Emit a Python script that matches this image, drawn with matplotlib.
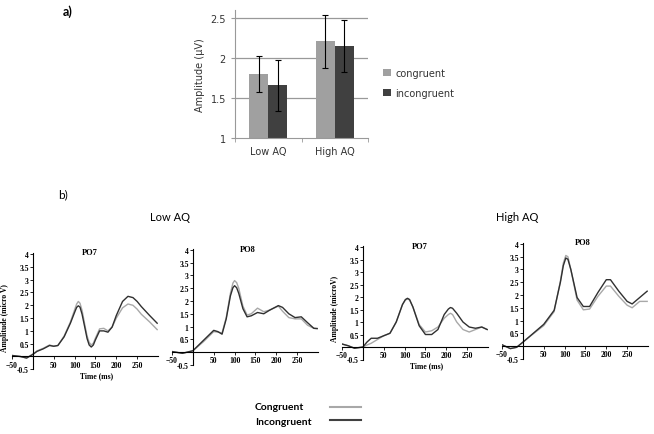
import matplotlib
matplotlib.use('Agg')
import matplotlib.pyplot as plt
import numpy as np

# ---- bar chart data (panel a) ----
groups = ['Low AQ', 'High AQ']
cong_mean = [1.80, 2.21]
cong_err = [0.225, 0.33]
incong_mean = [1.66, 2.15]
incong_err = [0.32, 0.33]

# ---- ERP waveforms (panel b) ----
lo_po7_t = [-50, -30, -15, 0, 10, 25, 40, 50, 60, 75, 90, 100, 105, 109, 113, 118, 125, 130, 135, 140, 145, 150, 160, 170, 180, 190, 200, 215, 228, 240, 250, 260, 280, 298]
lo_po7_inc = [0.04, 0.0, -0.06, 0.08, 0.2, 0.3, 0.43, 0.4, 0.43, 0.77, 1.3, 1.72, 1.92, 1.98, 1.93, 1.65, 1.1, 0.7, 0.45, 0.37, 0.45, 0.65, 1.0, 1.0, 0.95, 1.15, 1.6, 2.15, 2.35, 2.3, 2.15, 1.95, 1.6, 1.3]
lo_po7_con = [0.04, 0.0, -0.06, 0.1, 0.22, 0.32, 0.45, 0.4, 0.43, 0.8, 1.35, 1.82, 2.05, 2.15, 2.08, 1.8, 1.2, 0.8, 0.55, 0.45, 0.52, 0.72, 1.08, 1.1, 1.0, 1.15, 1.5, 1.9, 2.05, 2.0, 1.85, 1.65, 1.35, 1.05]

lo_po8_t = [-50, -25, 0, 25, 50, 60, 70, 80, 90, 96, 100, 105, 110, 120, 130, 140, 155, 170, 185, 205, 215, 230, 245, 260, 275, 290, 298]
lo_po8_inc = [0.02, -0.05, 0.05, 0.45, 0.85, 0.8, 0.7, 1.3, 2.2, 2.52, 2.6, 2.52, 2.3, 1.7, 1.38, 1.42, 1.55, 1.5, 1.65, 1.82, 1.75, 1.5, 1.35, 1.38, 1.15, 0.93, 0.92]
lo_po8_con = [0.02, -0.05, 0.05, 0.4, 0.8, 0.78, 0.75, 1.35, 2.3, 2.7, 2.8, 2.72, 2.5, 1.8, 1.45, 1.5, 1.72, 1.58, 1.65, 1.8, 1.6, 1.35, 1.3, 1.3, 1.05, 0.93, 0.92]

hi_po7_t = [-50, -35, -20, 0, 10, 20, 35, 50, 65, 80, 95, 102, 107, 112, 120, 135, 150, 165, 180, 195, 205, 210, 215, 225, 240, 255, 270, 285, 298]
hi_po7_inc = [0.12, 0.05, -0.05, 0.0, 0.2, 0.35, 0.35, 0.45, 0.55, 1.0, 1.7, 1.9, 1.95, 1.9, 1.6, 0.85, 0.5, 0.5, 0.7, 1.3, 1.52, 1.58, 1.55, 1.35, 1.0, 0.8, 0.75, 0.8, 0.7]
hi_po7_con = [0.12, 0.05, -0.05, 0.0, 0.08, 0.15, 0.3, 0.45, 0.55, 1.0, 1.7, 1.88, 1.92, 1.88, 1.6, 0.9, 0.6, 0.65, 0.8, 1.15, 1.3, 1.35, 1.3, 1.0, 0.7, 0.6, 0.7, 0.8, 0.7]

hi_po8_t = [-50, -30, -15, 0, 25, 50, 75, 90, 97, 103, 108, 115, 130, 145, 160, 180, 200, 210, 230, 250, 262, 280, 298]
hi_po8_inc = [0.05, -0.1, -0.05, 0.15, 0.5, 0.85, 1.4, 2.5, 3.15, 3.45, 3.4, 3.0, 1.9, 1.55, 1.55, 2.1, 2.6, 2.6, 2.15, 1.75, 1.65, 1.9, 2.15]
hi_po8_con = [0.05, -0.1, -0.05, 0.15, 0.48, 0.8, 1.35, 2.55, 3.25, 3.55, 3.5, 3.0, 1.8, 1.42, 1.45, 1.95, 2.35, 2.35, 1.95, 1.6, 1.5, 1.75, 1.75]

xticks = [-50, 50, 100, 150, 200, 250]
yticks = [-0.5, 0.5, 1, 1.5, 2, 2.5, 3, 3.5, 4]
ytick_labels = ['-0.5', '0.5', '1', '1.5', '2', '2.5', '3', '3.5', '4']

W, H = 654, 435
fig = plt.figure(figsize=(W / 100, H / 100), dpi=100)


def px_axes(left, top, right, bottom):
    return fig.add_axes([left / W, 1 - bottom / H, (right - left) / W, (bottom - top) / H])


# ---------------- panel a ----------------
ax = px_axes(235, 11, 368, 139)
x = np.arange(len(groups))
bw = 0.286
ax.bar(x - bw / 2, [m - 1 for m in cong_mean], bw, bottom=1, color='#a0a0a0', label='congruent', zorder=2)
ax.bar(x + bw / 2, [m - 1 for m in incong_mean], bw, bottom=1, color='#404040', label='incongruent', zorder=2)
ax.errorbar(x - bw / 2, cong_mean, yerr=cong_err, fmt='none', ecolor='black', elinewidth=0.8, capsize=2.5, capthick=0.8, zorder=3)
ax.errorbar(x + bw / 2, incong_mean, yerr=incong_err, fmt='none', ecolor='black', elinewidth=0.8, capsize=2.5, capthick=0.8, zorder=3)
ax.set_xlim(-0.5, 1.5)
ax.set_ylim(1, 2.6)
ax.set_yticks([1, 1.5, 2, 2.5])
ax.set_yticklabels(['1', '1.5', '2', '2.5'])
for g in [1.5, 2, 2.5]:
    ax.axhline(g, color='#999999', lw=0.9, zorder=1)
ax.set_xticks(x)
ax.set_xticklabels(groups)
ax.set_xticks([-0.5, 0.5, 1.5], minor=True)
ax.tick_params(axis='x', which='major', length=0, labelsize=7, colors='#333333', pad=6)
ax.tick_params(axis='x', which='minor', length=3, color='#999999')
ax.tick_params(axis='y', length=3, color='#999999', labelsize=7, labelcolor='#333333')
for s in ['top', 'right']:
    ax.spines[s].set_visible(False)
for s in ['left', 'bottom']:
    ax.spines[s].set_color('#999999')
ax.set_ylabel('Amplitude (\u00b5V)', fontsize=7, color='#333333', labelpad=4)
ax.legend(loc='center left', bbox_to_anchor=(1.05, 0.43), frameon=False, fontsize=7,
          handlelength=0.8, handleheight=0.8, handletextpad=0.4, labelspacing=1.0, labelcolor='#333333')

fig.text(63 / W, 1 - 12 / H, 'a)', fontsize=9, fontweight='bold', family='Lato', va='center')
fig.text(58 / W, 1 - 195 / H, 'b)', fontsize=8.5, family='Lato', va='center')
fig.text(170 / W, 1 - 218 / H, 'Low AQ', fontsize=8, family='Lato', ha='center', va='center')
fig.text(517 / W, 1 - 218 / H, 'High AQ', fontsize=8, family='Lato', ha='center', va='center')

# ---------------- panel b ----------------
serif = 'Liberation Serif'
panels = [
    ((12, 253.8, 158, 370.3), lo_po7_t, lo_po7_con, lo_po7_inc, 'PO7', 'Amplitude (micro V)', (90, 253)),
    ((172, 249.7, 318, 365.8), lo_po8_t, lo_po8_con, lo_po8_inc, 'PO8', None, (248, 250)),
    ((342, 246.8, 488, 360.5), hi_po7_t, hi_po7_con, hi_po7_inc, 'PO7', 'Amplitude (microV)', (420, 247)),
    ((502, 243.7, 648, 359.8), hi_po8_t, hi_po8_con, hi_po8_inc, 'PO8', None, (583, 243)),
]

for box, t, con, inc, title, ylab, tpos in panels:
    a = px_axes(*box)
    a.plot(t, con, color='#a8a8a8', lw=1.0)
    a.plot(t, inc, color='#303030', lw=1.0)
    a.set_xlim(-50, 300)
    a.set_ylim(-0.5, 4.05)
    a.spines['left'].set_position(('data', 0))
    a.spines['bottom'].set_position(('data', 0))
    a.spines['top'].set_visible(False)
    a.spines['right'].set_visible(False)
    a.spines['left'].set_linewidth(0.8)
    a.spines['bottom'].set_linewidth(0.8)
    a.set_xticks(xticks)
    a.set_yticks(yticks)
    a.set_yticklabels(ytick_labels)
    a.tick_params(length=2, width=0.6, pad=1)
    for lab in a.get_xticklabels() + a.get_yticklabels():
        lab.set_family(serif)
        lab.set_fontweight('bold')
        lab.set_fontsize(5.5)
    a.patch.set_alpha(0)
    fig.text(tpos[0] / W, 1 - tpos[1] / H, title, family=serif, fontweight='bold', fontsize=6, ha='center', va='center')
    if ylab:
        a.set_ylabel(ylab, family=serif, fontweight='bold', fontsize=5.5, labelpad=1)
        a.yaxis.set_label_coords(-0.02, 0.45)
        fig.text((box[0] + 85) / W, 1 - (box[3] + 6) / H, 'Time (ms)', family=serif, fontweight='bold',
                 fontsize=5.5, ha='center', va='center')

# bottom legend
fig.text(255 / W, 1 - 408 / H, 'Congruent', family='Lato', fontweight='bold', fontsize=7.5, va='center')
fig.text(255 / W, 1 - 423 / H, 'Incongruent', family='Lato', fontweight='bold', fontsize=7.5, va='center')
fig.add_artist(plt.Line2D([330 / W, 361 / W], [1 - 408 / H, 1 - 408 / H], color='#a8a8a8', lw=1.5))
fig.add_artist(plt.Line2D([330 / W, 361 / W], [1 - 421 / H, 1 - 421 / H], color='#404040', lw=1.5))

fig.savefig('out.png', dpi=100)
